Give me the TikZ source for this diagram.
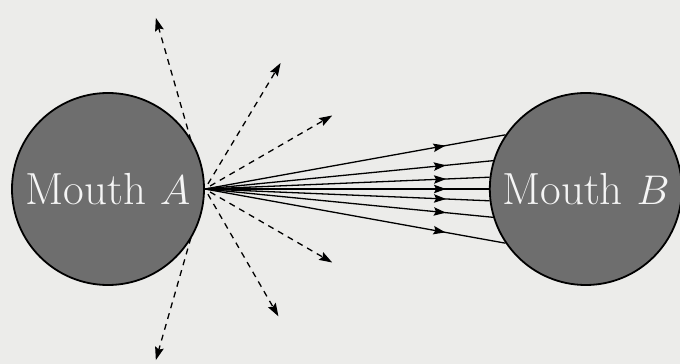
\documentclass[tikz,border=0pt]{standalone}
\usepackage{amsmath,amssymb}
\usetikzlibrary{positioning,arrows.meta,backgrounds,decorations.markings}
\definecolor{paper}{RGB}{236,236,234}

\begin{document}
\begin{tikzpicture}[
  x=0.5pt, y=0.5pt,
  font=\fontsize{22.5}{27}\selectfont,
  mouth/.style={circle, draw, line width=0.9pt, fill=black!57, text=black!4, minimum size=96pt, inner sep=0pt},
  ray/.style={dashed, dash pattern=on 3pt off 2.6pt, line width=0.65pt, shorten <=3pt, -{Stealth[length=6.5pt, width=4.4pt, inset=1pt]}},
  beam/.style={line width=0.65pt, postaction={decorate},
    decoration={markings, mark=at position #1 with {\arrow{Stealth[length=6pt, width=4.2pt, inset=1pt]}}}}
]
\useasboundingbox (0,0) rectangle (680,364);
\node[mouth] (mouthA) at (108,175) {Mouth $A$};
\node[mouth, right=142pt of mouthA] (mouthB) {Mouth $B$};
% escaping rays
\foreach \ang/\len [count=\i] in {106/178, 59/147, 30/147, -30/147, -60/147, -106/178}
  \coordinate (esc\i) at ([shift={(\ang:\len)}]mouthA.east);
\begin{scope}[on background layer]
\fill[paper] (0,0) rectangle (680,364);
\foreach \i in {1,...,6}
  \draw[ray] (mouthA.east) -- (esc\i);
\end{scope}
% rays reaching mouth B
\foreach \ang/\p in {146/0.80, 163/0.836, 173/0.847, 180/0.849, 187/0.847, 197/0.836, 214/0.80}
  \draw[beam=\p] (mouthA.east) -- (mouthB.\ang);
\end{tikzpicture}
\end{document}
